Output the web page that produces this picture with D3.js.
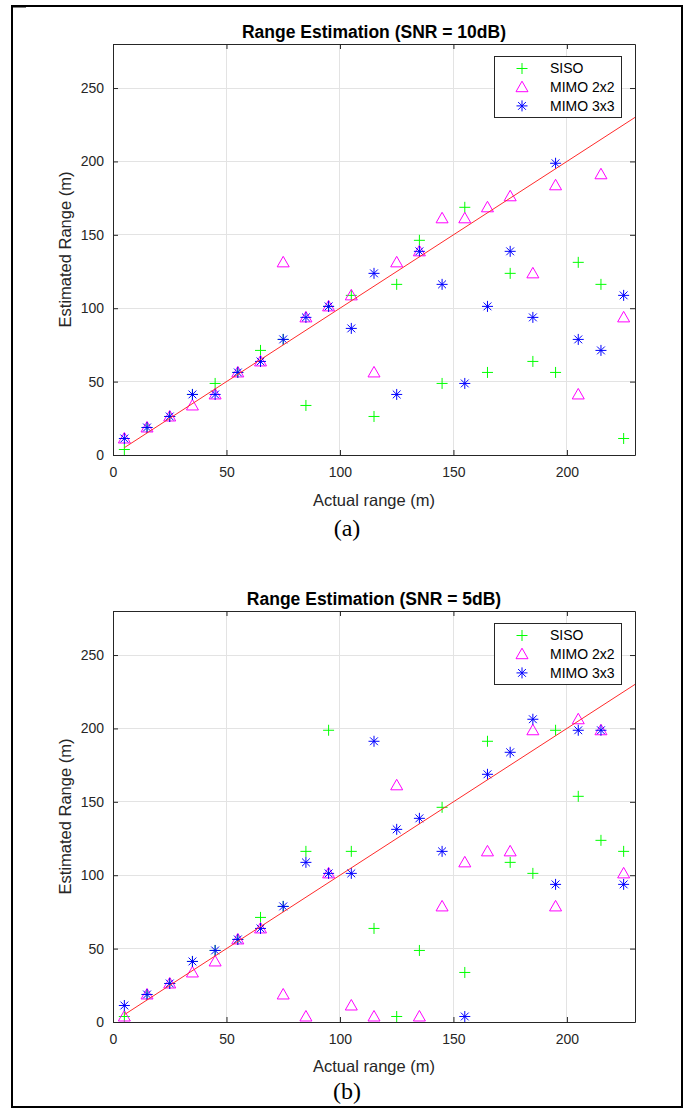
<!DOCTYPE html>
<html>
<head>
<meta charset="utf-8">
<script src="https://cdn.jsdelivr.net/npm/d3@7"></script>
<style>
  html, body { margin: 0; padding: 0; background: #fff; }
  svg { display: block; }
</style>
</head>
<body>
<svg id="chart" width="694" height="1108"></svg>
<script>
// ---------- data ----------
const actualRange = [5,15,25,35,45,55,65,75,85,95,105,115,125,135,145,155,165,175,185,195,205,215,225];
const seriesNames = ["SISO", "MIMO 2x2", "MIMO 3x3"];
const xTicks = [0, 50, 100, 150, 200];
const yTicks = [0, 50, 100, 150, 200, 250];
const xDomain = [0, 230];
const yDomain = [0, 280];
const refLine = [[5, 5], [230, 230]];

// SNR = 10 dB
const siso10   = [3.75,18.75,26.25,41.25,48.75,56.25,71.25,78.75,33.75,101.25,108.75,26.25,116.25,146.25,48.75,168.75,56.25,123.75,63.75,56.25,131.25,116.25,11.25];
const mimo2x2_10 = [11.25,18.75,26.25,33.75,41.25,56.25,63.75,131.25,93.75,101.25,108.75,56.25,131.25,138.75,161.25,161.25,168.75,176.25,123.75,183.75,41.25,191.25,93.75];
const mimo3x3_10 = [11.25,18.75,26.25,41.25,41.25,56.25,63.75,78.75,93.75,101.25,86.25,123.75,41.25,138.75,116.25,48.75,101.25,138.75,93.75,198.75,78.75,71.25,108.75];

// SNR = 5 dB
const siso5    = [3.75,18.75,26.25,41.25,48.75,56.25,71.25,78.75,116.25,198.75,116.25,63.75,3.75,48.75,146.25,33.75,191.25,108.75,101.25,198.75,153.75,123.75,116.25];
const mimo2x2_5  = [3.75,18.75,26.25,33.75,41.25,56.25,63.75,18.75,3.75,101.25,11.25,3.75,161.25,3.75,78.75,108.75,116.25,116.25,198.75,78.75,206.25,198.75,101.25];
const mimo3x3_5  = [11.25,18.75,26.25,41.25,48.75,56.25,63.75,78.75,108.75,101.25,101.25,191.25,131.25,138.75,116.25,3.75,168.75,183.75,206.25,93.75,198.75,198.75,93.75];

const panelTitles = ["Range Estimation (SNR = 10dB)", "Range Estimation (SNR = 5dB)"];
const panelTags = ["(a)", "(b)"];
const xLabel = "Actual range (m)";
const yLabel = "Estimated Range (m)";

// ---------- drawing ----------
const svg = d3.select("#chart");
const colors = ["#00ff00", "#ff00ff", "#0000ff"];
const markerTypes = ["plus", "triangle", "star"];
const sans = "Liberation Sans, Arial, sans-serif";

// outer frame
svg.append("rect").attr("x", 12).attr("y", 6).attr("width", 670).attr("height", 1101)
  .attr("fill", "none").attr("stroke", "#000").attr("stroke-width", 2);
svg.append("line").attr("x1", 11).attr("x2", 26).attr("y1", 6.5).attr("y2", 6.5)
  .attr("stroke", "#000").attr("stroke-width", 2);

function markerPath(type) {
  if (type === "plus") return "M-5.5,0H5.5M0,-5.5V5.5";
  if (type === "triangle") return "M0,-6L6,4.5L-6,4.5Z";
  const d = 5.5, e = 3.9;
  return `M-${d},0H${d}M0,-${d}V${d}M-${e},-${e}L${e},${e}M-${e},${e}L${e},-${e}`;
}

function drawPanel(top, seriesList, title, tag, xLabelY, tagY) {
  const left = 113, right = 635, bottom = top + 411;
  const x = d3.scaleLinear().domain(xDomain).range([left, right]);
  const y = d3.scaleLinear().domain(yDomain).range([bottom, top]);
  const g = svg.append("g");

  // grid
  g.append("g").selectAll("line").data(xTicks.filter(t => t > 0)).join("line")
    .attr("x1", d => x(d)).attr("x2", d => x(d)).attr("y1", top).attr("y2", bottom)
    .attr("stroke", "#e3e3e3").attr("stroke-width", 1).attr("shape-rendering", "crispEdges");
  g.append("g").selectAll("line").data(yTicks.filter(t => t > 0)).join("line")
    .attr("x1", left).attr("x2", right).attr("y1", d => y(d)).attr("y2", d => y(d))
    .attr("stroke", "#e3e3e3").attr("stroke-width", 1).attr("shape-rendering", "crispEdges");

  // axes with inward ticks
  const axB = d3.axisBottom(x).tickValues(xTicks).tickSizeInner(-5).tickSizeOuter(0).tickPadding(12);
  const axL = d3.axisLeft(y).tickValues(yTicks).tickSizeInner(-5).tickSizeOuter(0).tickPadding(9);
  const axT = d3.axisTop(x).tickValues(xTicks).tickSizeInner(-5).tickSizeOuter(0).tickFormat("");
  const axR = d3.axisRight(y).tickValues(yTicks).tickSizeInner(-5).tickSizeOuter(0).tickFormat("");
  const styleAxis = sel => {
    sel.selectAll("path,line").attr("stroke", "#262626").attr("stroke-width", 1);
    sel.selectAll("text").attr("fill", "#262626").attr("font-family", sans).attr("font-size", 14);
  };
  g.append("g").attr("transform", `translate(0,${bottom})`).call(axB).call(styleAxis);
  g.append("g").attr("transform", `translate(${left},0)`).call(axL).call(styleAxis);
  g.append("g").attr("transform", `translate(0,${top})`).call(axT).call(styleAxis);
  g.append("g").attr("transform", `translate(${right},0)`).call(axR).call(styleAxis);

  // markers
  seriesList.forEach((vals, i) => {
    g.append("g").selectAll("path").data(vals).join("path")
      .attr("transform", (d, j) => `translate(${x(actualRange[j])},${y(d)})`)
      .attr("d", markerPath(markerTypes[i]))
      .attr("fill", "none").attr("stroke", colors[i]).attr("stroke-width", 1);
  });

  // reference line y = x
  g.append("path").datum(refLine)
    .attr("d", d3.line().x(d => x(d[0])).y(d => y(d[1])))
    .attr("fill", "none").attr("stroke", "#ff2a2a").attr("stroke-width", 1);

  // legend
  const lg = g.append("g");
  lg.append("rect").attr("x", 494.5).attr("y", top + 12.5).attr("width", 127).attr("height", 61)
    .attr("fill", "#fff").attr("stroke", "#262626").attr("stroke-width", 1);
  seriesNames.forEach((name, i) => {
    const ry = top + 24.5 + i * 18.7;
    lg.append("path").attr("transform", `translate(522,${ry})`).attr("d", markerPath(markerTypes[i]))
      .attr("fill", "none").attr("stroke", colors[i]).attr("stroke-width", 1);
    lg.append("text").attr("x", 550).attr("y", ry).attr("dy", "0.35em")
      .attr("font-family", sans).attr("font-size", 14)
      .attr("fill", "#000").text(name);
  });

  // title
  g.append("text").attr("x", (left + right) / 2).attr("y", top - 6)
    .attr("text-anchor", "middle").attr("font-family", sans)
    .attr("font-weight", "bold").attr("font-size", 17.5).attr("fill", "#000").text(title);
  // x label
  g.append("text").attr("x", (left + right) / 2).attr("y", xLabelY)
    .attr("text-anchor", "middle").attr("font-family", sans)
    .attr("font-size", 16.5).attr("fill", "#262626").text(xLabel);
  // y label
  g.append("text").attr("transform", `translate(71,${(top + bottom) / 2}) rotate(-90)`)
    .attr("text-anchor", "middle").attr("font-family", sans)
    .attr("font-size", 16.5).attr("fill", "#262626").text(yLabel);
  // tag
  g.append("text").attr("x", 347).attr("y", tagY)
    .attr("text-anchor", "middle").attr("font-family", "Liberation Serif, Times New Roman, serif")
    .attr("font-size", 24).attr("fill", "#000").text(tag);
}

drawPanel(44, [siso10, mimo2x2_10, mimo3x3_10], panelTitles[0], panelTags[0], 506, 536);
drawPanel(611, [siso5, mimo2x2_5, mimo3x3_5], panelTitles[1], panelTags[1], 1072, 1099);
</script>
</body>
</html>
